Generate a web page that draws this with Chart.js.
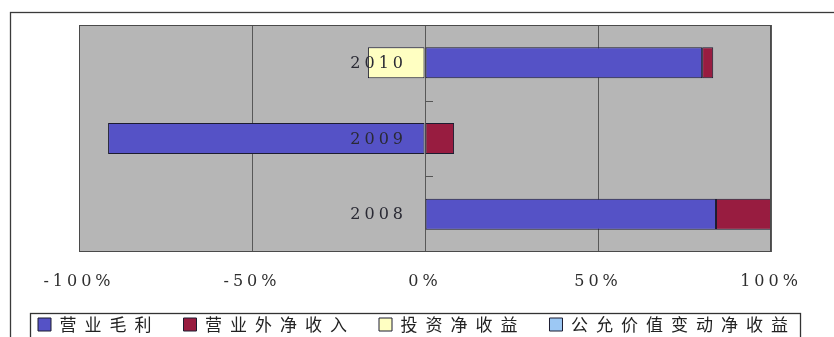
<!DOCTYPE html>
<html>
<head>
<meta charset="utf-8">
<script src="https://cdn.jsdelivr.net/npm/chart.js@4/dist/chart.umd.min.js"></script>
<style>
  html, body { margin: 0; padding: 0; background: #fff; }
  #wrap { width: 834px; height: 337px; }
</style>
</head>
<body>
<div id="wrap"><canvas id="c" width="834" height="337"></canvas></div>
<script>
// Profit composition by year (share of total profit, %)
const years = ['2010', '2009', '2008'];
const grossProfit = [80.1, -91.6, 84.1];         // 营业毛利
const nonOperatingIncome = [3.2, 8.4, 15.9];     // 营业外净收入
const investmentIncome = [-16.5, null, null];    // 投资净收益
const fairValueChange = [null, null, null];      // 公允价值变动净收益
const seriesNames = ['营业毛利', '营业外净收入', '投资净收益', '公允价值变动净收益'];
const xTickValues = [-100, -50, 0, 50, 100];

const TICK_SPACING = '4px';
const LEGEND_SPACING = '8px';
const SERIF = '"DejaVu Serif", "Liberation Serif", serif';

const decor = {
  id: 'decor',
  beforeLayout(chart) { chart.ctx.letterSpacing = TICK_SPACING; },
  beforeDraw(chart) {
    const { ctx, chartArea: a } = chart;
    ctx.save();
    ctx.fillStyle = '#ffffff';
    ctx.fillRect(0, 0, chart.width, chart.height);
    // outer frame
    ctx.strokeStyle = '#3a3a3a';
    ctx.lineWidth = 1.3;
    ctx.strokeRect(10.5, 12.5, chart.width + 40, chart.height + 40);
    // plot background
    ctx.fillStyle = '#b6b6b6';
    ctx.fillRect(a.left, a.top, a.right - a.left, a.bottom - a.top);
    ctx.restore();
    ctx.letterSpacing = TICK_SPACING;
  },
  afterDatasetsDraw(chart) {
    const { ctx, chartArea: a } = chart;
    const xs = chart.scales.x, ys = chart.scales.y;
    const zero = xs.getPixelForValue(0);
    ctx.save();
    // plot border
    ctx.strokeStyle = '#4a4a4a';
    ctx.lineWidth = 1;
    ctx.strokeRect(a.left + 0.5, a.top + 0.5, a.right - a.left - 1, a.bottom - a.top - 1);
    // category tick marks on the zero axis
    ctx.strokeStyle = '#555';
    for (let i = 0; i < years.length - 1; i++) {
      const y = Math.round(ys.getPixelForValue(i + 0.5)) + 0.5;
      ctx.beginPath();
      ctx.moveTo(zero, y);
      ctx.lineTo(zero + 8, y);
      ctx.stroke();
    }
    // year labels beside the zero axis
    ctx.letterSpacing = '4px';
    ctx.font = '16px ' + SERIF;
    ctx.fillStyle = '#2a2a34';
    ctx.textAlign = 'right';
    ctx.textBaseline = 'middle';
    years.forEach((yr, i) => {
      ctx.fillText(yr, zero - 18, ys.getPixelForValue(i) + 1);
    });
    ctx.restore();
    ctx.letterSpacing = TICK_SPACING;
  },
  afterDraw(chart) {
    const { ctx } = chart;
    const hb = chart.legend.legendHitBoxes;
    if (!hb || !hb.length) return;
    const last = hb[hb.length - 1];
    const left = hb[0].left - 8;
    const right = last.left + last.width + 4;
    const cy = hb[0].top + hb[0].height / 2;
    ctx.save();
    ctx.strokeStyle = '#333';
    ctx.lineWidth = 1.3;
    ctx.strokeRect(Math.round(left) + 0.5, Math.round(cy - 12) + 0.5, right - left, 60);
    ctx.restore();
  }
};

const border = '#1c1c30';

const chart = new Chart(document.getElementById('c'), {
  type: 'bar',
  data: {
    labels: years,
    datasets: [
      { label: seriesNames[0], data: grossProfit, backgroundColor: '#5552c6', borderColor: border },
      { label: seriesNames[1], data: nonOperatingIncome, backgroundColor: '#981c40', borderColor: border },
      { label: seriesNames[2], data: investmentIncome, backgroundColor: '#ffffc2', borderColor: border },
      { label: seriesNames[3], data: fairValueChange, backgroundColor: '#9cc8f4', borderColor: border }
    ]
  },
  options: {
    indexAxis: 'y',
    responsive: false,
    animation: false,
    devicePixelRatio: 1,
    layout: { padding: { left: 0, right: 0, top: 25, bottom: -6 } },
    datasets: {
      bar: {
        categoryPercentage: 1,
        barPercentage: 0.41,
        borderWidth: 1,
        borderSkipped: false
      }
    },
    scales: {
      x: {
        stacked: true,
        min: -100,
        max: 100,
        afterBuildTicks(scale) { scale.ticks = xTickValues.map(v => ({ value: v })); },
        afterFit(scale) { scale.height = 40; },
        grid: { color: '#585858', lineWidth: 1, drawTicks: false },
        border: { display: false },
        ticks: {
          padding: 20,
          color: '#2e2e2e',
          font: { family: SERIF, size: 16 },
          callback: v => v + '%'
        }
      },
      y: {
        stacked: true,
        position: 'left',
        grid: { display: false },
        border: { display: false },
        ticks: { display: false },
        afterFit(scale) { scale.width = 79; }
      },
      yRight: {
        type: 'category',
        position: 'right',
        grid: { display: false },
        border: { display: false },
        ticks: { display: false },
        afterFit(scale) { scale.width = 63; }
      }
    },
    plugins: {
      legend: {
        position: 'bottom',
        labels: {
          boxWidth: 13,
          boxHeight: 13,
          padding: 24,
          color: '#222',
          font: { family: '"Noto Sans CJK SC", sans-serif', size: 17 }
        }
      },
      tooltip: { enabled: false }
    }
  },
  plugins: [decor]
});

// The legend uses wider letter spacing than the axis labels
const legend = chart.legend;
const spaced = fn => function (...args) {
  const c = this.ctx;
  const prev = c.letterSpacing;
  c.letterSpacing = LEGEND_SPACING;
  const out = fn.apply(this, args);
  c.letterSpacing = prev;
  return out;
};
legend.fit = spaced(legend.fit);
legend.draw = spaced(legend.draw);
chart.update();
</script>
</body>
</html>
